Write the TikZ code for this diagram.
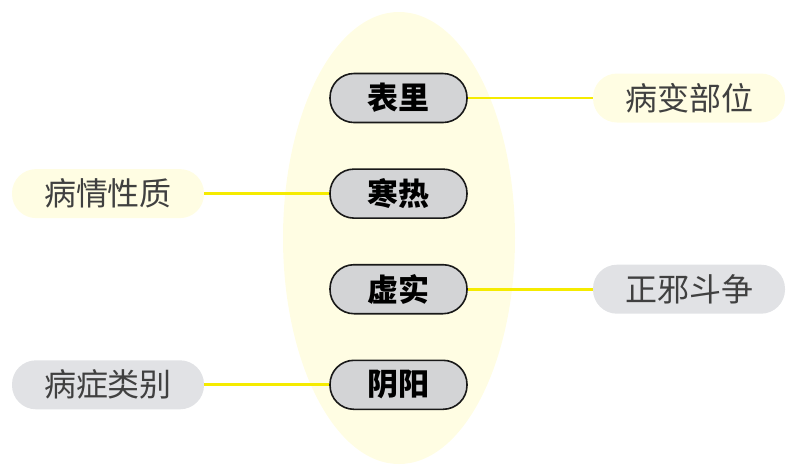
\documentclass[tikz,border=0pt]{standalone}
\usepackage{fontspec}
\newfontfamily\cjk{Noto Sans CJK SC}
\usetikzlibrary{positioning, shapes.geometric}
\definecolor{paleyellow}{HTML}{FFFDE3}
\definecolor{boxgray}{HTML}{D3D4D6}
\definecolor{palegray}{HTML}{E1E2E5}
\definecolor{linkyellow}{HTML}{F5EB00}

\begin{document}
\begin{tikzpicture}[
  x=1pt, y=-1pt,
  core/.style={draw=black!90, line width=1.6pt, fill=boxgray, rounded corners=24pt,
    minimum width=137pt, minimum height=49pt, font=\cjk\bfseries\fontsize{31}{31}\selectfont},
  side/.style={rounded corners=24pt, minimum width=192pt, minimum height=49pt,
    text=black!75, font=\cjk\fontsize{32}{32}\selectfont},
  link/.style={linkyellow, line width=2.8pt}
]
  \useasboundingbox (0,0) rectangle (801,467);
  \fill[paleyellow] (399,238) ellipse[x radius=116pt, y radius=226pt];

  \node[core] (biaoli) at (398.5,98) {表里};
  \node[core, below=45pt of biaoli] (hanre)  {寒热};
  \node[core, below=45pt of hanre]  (xushi)  {虚实};
  \node[core, below=45pt of xushi]  (yinyang) {阴阳};

  \node[side, fill=paleyellow, right=125pt of biaoli] (buwei)  {病变部位};
  \node[side, fill=paleyellow, left=125pt of hanre]   (xingzhi) {病情性质};
  \node[side, fill=palegray, right=125pt of xushi]    (douzheng) {正邪斗争};
  \node[side, fill=palegray, left=125pt of yinyang]   (leibie) {病症类别};

  \draw[link] (biaoli) -- (buwei);
  \draw[link] (hanre) -- (xingzhi);
  \draw[link] (xushi) -- (douzheng);
  \draw[link] (yinyang) -- (leibie);
\end{tikzpicture}
\end{document}
